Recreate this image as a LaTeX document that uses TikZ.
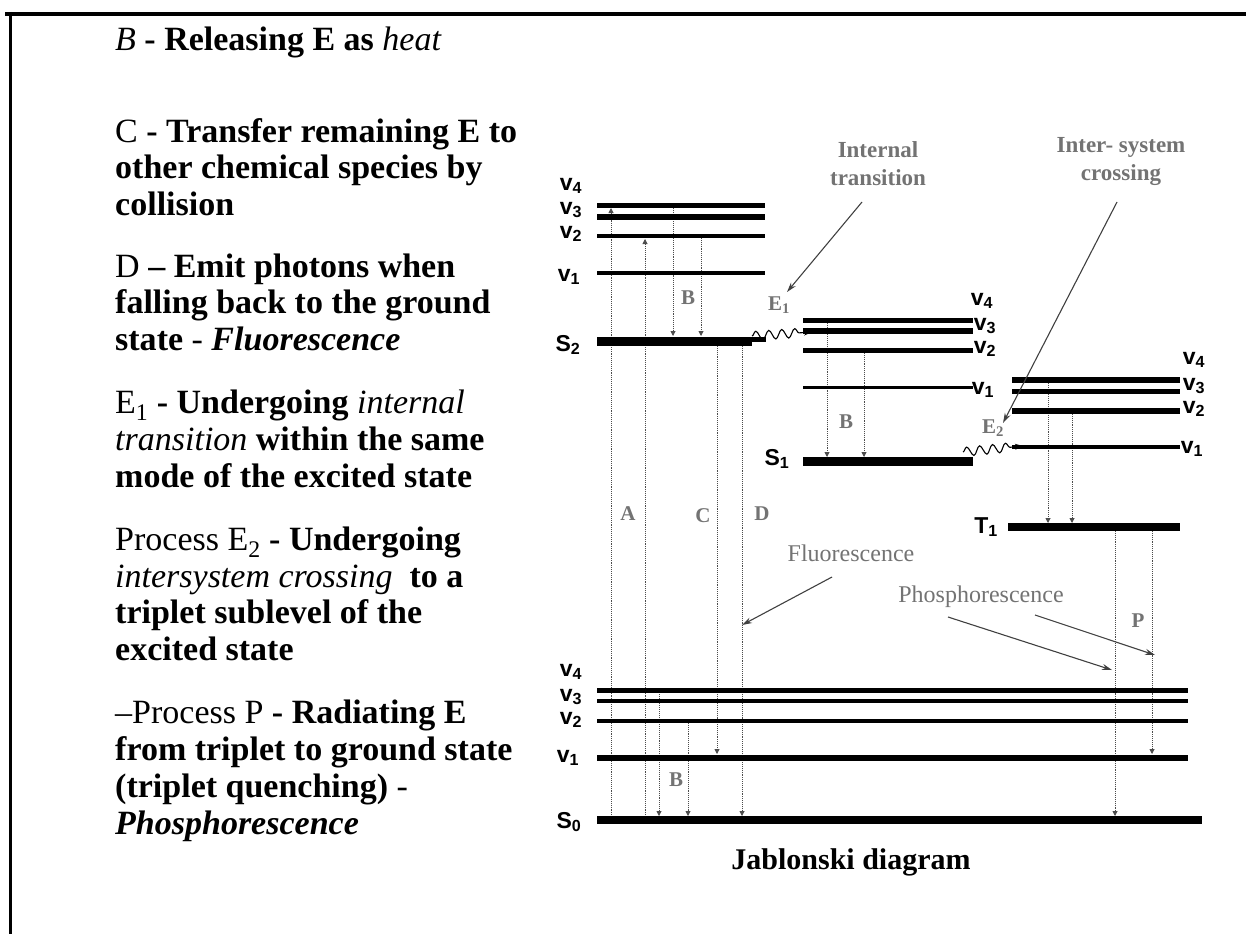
\documentclass[tikz,border=0pt]{standalone}
\usepackage{fontspec}
\setmainfont{Liberation Serif}
\newfontfamily\arialf{Liberation Sans}
\usetikzlibrary{arrows.meta,decorations.pathmorphing}
\newcommand{\vsub}[2]{#1\textsubscript{#2}}
\tikzset{
  lev/.style={line width=#1},
  trans/.style={densely dotted, line width=0.9pt, draw=black!70, -{Triangle[length=5pt,width=5pt]}},
  glab/.style={text=black!55, font=\fontsize{21}{24}\selectfont\bfseries, inner sep=0},
  gtext/.style={text=black!55, font=\fontsize{24}{27}\selectfont, inner sep=0},
  gbold/.style={text=black!55, font=\fontsize{23}{28}\selectfont\bfseries, inner sep=0, align=center},
  vlab/.style={font=\arialf\bfseries\fontsize{23}{24}\selectfont, inner sep=0},
  pline/.style={anchor=base west, inner sep=0, font=\fontsize{34}{37}\selectfont},
  note/.style={line width=1.1pt, draw=black!75, -{Stealth[length=10pt,width=6pt]}},
  wave/.style={decorate, decoration={snake, amplitude=4.5pt, segment length=13pt, post length=7pt}, line width=1.1pt, -{Stealth[length=8pt,width=6pt]}}
}
\begin{document}
\begin{tikzpicture}[x=1pt,y=-1pt]
\useasboundingbox (0,0) rectangle (1246,934);
% frame
\draw[line width=4pt] (5,14) -- (1246,14);
\draw[line width=3pt] (10,12) -- (10,934);

% left text
\node[pline] (p1a) at (115,51) {\textit{B} \textbf{- Releasing E as} \textit{heat}};
\node[pline] (p2a) at (115,142) {C \textbf{- Transfer remaining E to}};
\node[pline] (p2b) at (115,178) {\textbf{other chemical species by}};
\node[pline] (p2c) at (115,215) {\textbf{collision}};
\node[pline] (p3a) at (115,277) {D \textbf{– Emit photons when}};
\node[pline] (p3b) at (115,313) {\textbf{falling back to the ground}};
\node[pline] (p3c) at (115,350) {\textbf{state} - \textbf{\textit{Fluorescence}}};
\node[pline] (p4a) at (115,413) {E\textsubscript{1} \textbf{- Undergoing} \textit{internal}};
\node[pline] (p4b) at (115,450) {\textit{transition} \textbf{within the same}};
\node[pline] (p4c) at (115,487) {\textbf{mode of the excited state}};
\node[pline] (p5a) at (115,550) {Process E\textsubscript{2} \textbf{- Undergoing}};
\node[pline] (p5b) at (115,587) {\textit{intersystem crossing}\ \ \textbf{to a}};
\node[pline] (p5c) at (115,623) {\textbf{triplet sublevel of the}};
\node[pline] (p5d) at (115,660) {\textbf{excited state}};
\node[pline] (p6a) at (115,723) {–Process P \textbf{- Radiating E}};
\node[pline] (p6b) at (115,760) {\textbf{from triplet to ground state}};
\node[pline] (p6c) at (115,797) {\textbf{(triplet quenching)} -};
\node[pline] (p6d) at (115,834) {\textbf{\textit{Phosphorescence}}};

% transition coordinates
\coordinate (a1b) at (611,817); \coordinate (a1t) at (611,208);
\coordinate (a2b) at (645,817); \coordinate (a2t) at (645,239);
\coordinate (b1t) at (673,208); \coordinate (b1b) at (673,336);
\coordinate (b2t) at (701,238); \coordinate (b2b) at (701,336);
\coordinate (ct) at (717,346); \coordinate (cb) at (717,754);
\coordinate (dt) at (742,346); \coordinate (db) at (742,816);
\coordinate (b3t) at (827,323); \coordinate (b3b) at (827,457);
\coordinate (b4t) at (864,353); \coordinate (b4b) at (864,457);
\coordinate (t1t) at (1048,383); \coordinate (t1b) at (1048,523);
\coordinate (t2t) at (1072,414); \coordinate (t2b) at (1072,523);
\coordinate (p1t) at (1115,531); \coordinate (p1b) at (1115,816);
\coordinate (p2t) at (1152,531); \coordinate (p2b) at (1152,754);
\coordinate (g1t) at (659,692); \coordinate (g1b) at (659,816);
\coordinate (g2t) at (688,723); \coordinate (g2b) at (688,816);

\draw[trans] (a1b) -- (a1t);
\draw[trans] (a2b) -- (a2t);
\draw[trans] (b1t) -- (b1b);
\draw[trans] (b2t) -- (b2b);
\draw[trans] (ct) -- (cb);
\draw[trans] (dt) -- (db);
\draw[trans] (b3t) -- (b3b);
\draw[trans] (b4t) -- (b4b);
\draw[trans] (t1t) -- (t1b);
\draw[trans] (t2t) -- (t2b);
\draw[trans] (p1t) -- (p1b);
\draw[trans] (p2t) -- (p2b);
\draw[trans] (g1t) -- (g1b);
\draw[trans] (g2t) -- (g2b);

% S2 block
\draw[lev=5pt] (597,205) -- (765,205);
\draw[lev=6pt] (597,217) -- (765,217);
\draw[lev=4pt] (597,236) -- (765,236);
\draw[lev=3.5pt] (597,273) -- (765,273);
\draw[lev=9pt] (597,341) -- (752,341);
\draw[lev=5pt] (752,339) -- (766,339);
\node[vlab] (s2v4) at (571,186) {\vsub{v}{4}};
\node[vlab] (s2v3) at (571,210) {\vsub{v}{3}};
\node[vlab] (s2v2) at (571,234) {\vsub{v}{2}};
\node[vlab] (s2v1) at (569,277) {\vsub{v}{1}};
\node[vlab] (s2) at (568,345) {\vsub{S}{2}};

% S1 block
\draw[lev=5pt] (803,320) -- (973,320);
\draw[lev=5.5pt] (803,331) -- (973,331);
\draw[lev=5pt] (803,350.5) -- (973,350.5);
\draw[lev=3.5pt] (803,387.5) -- (973,387.5);
\draw[lev=9pt] (803,461.5) -- (973,461.5);
\node[vlab] (s1v4) at (982,301) {\vsub{v}{4}};
\node[vlab] (s1v3) at (985,326) {\vsub{v}{3}};
\node[vlab] (s1v2) at (985,349) {\vsub{v}{2}};
\node[vlab] (s1v1) at (983,390) {\vsub{v}{1}};
\node[vlab] (s1) at (777,459) {\vsub{S}{1}};

% T1 block
\draw[lev=6pt] (1012,380) -- (1180,380);
\draw[lev=5.5pt] (1012,391.5) -- (1180,391.5);
\draw[lev=6pt] (1012,411) -- (1180,411);
\draw[lev=4.5pt] (1012,447) -- (1180,447);
\draw[lev=8pt] (1008,527) -- (1180,527);
\node[vlab] (tv4) at (1194,360) {\vsub{v}{4}};
\node[vlab] (tv3) at (1194,386) {\vsub{v}{3}};
\node[vlab] (tv2) at (1194,409) {\vsub{v}{2}};
\node[vlab] (tv1) at (1192,449) {\vsub{v}{1}};
\node[vlab] (t1) at (986,527) {\vsub{T}{1}};

% S0 block
\draw[lev=5pt] (597,690) -- (1188,690);
\draw[lev=4.5pt] (597,701) -- (1188,701);
\draw[lev=4.5pt] (597,721) -- (1188,721);
\draw[lev=6pt] (597,757.5) -- (1188,757.5);
\draw[lev=8pt] (597,820) -- (1202,820);
\node[vlab] (s0v4) at (571,672) {\vsub{v}{4}};
\node[vlab] (s0v3) at (571,697) {\vsub{v}{3}};
\node[vlab] (s0v2) at (571,720) {\vsub{v}{2}};
\node[vlab] (s0v1) at (568,758) {\vsub{v}{1}};
\node[vlab] (s0) at (569,822) {\vsub{S}{0}};

% wavy transitions
\coordinate (e1s) at (752,336); \coordinate (e1e) at (812,332);
\coordinate (e2s) at (963,452); \coordinate (e2e) at (1023,446);
\draw[wave] (e1s) -- (e1e);
\draw[wave] (e2s) -- (e2e);

% gray letter labels
\node[glab] (la) at (628,514) {A};
\node[glab] (lc) at (703,516) {C};
\node[glab] (ld) at (762,514) {D};
\node[glab] (lb1) at (688,298) {B};
\node[glab] (lb2) at (846,422) {B};
\node[glab] (lb3) at (676,780) {B};
\node[glab] (lp) at (1138,621) {P};
\node[glab] (le1) at (779,305) {E\textsubscript{1}};
\node[glab] (le2) at (993,428) {E\textsubscript{2}};

% annotations
\node[gbold] (it) at (878,164) {Internal\\transition};
\node[gbold] (isc) at (1121,162) {Inter- system\\crossing};
\node[gtext] (fl) at (851,553) {Fluorescence};
\node[gtext] (ph) at (981,597) {Phosphorescence};
\coordinate (itS) at (862,202); \coordinate (itE) at (787,292);
\coordinate (iscS) at (1117,202); \coordinate (iscE) at (1003,423);
\coordinate (flS) at (832,577); \coordinate (flE) at (742,625);
\coordinate (ph1S) at (948,617); \coordinate (ph1E) at (1112,670);
\coordinate (ph2S) at (1035,615); \coordinate (ph2E) at (1155,655);
\draw[note] (itS) -- (itE);
\draw[note] (iscS) -- (iscE);
\draw[note] (flS) -- (flE);
\draw[note] (ph1S) -- (ph1E);
\draw[note] (ph2S) -- (ph2E);

\node[font=\fontsize{30}{32}\selectfont\bfseries, inner sep=0] (title) at (851,862) {Jablonski diagram};
\end{tikzpicture}
\end{document}
